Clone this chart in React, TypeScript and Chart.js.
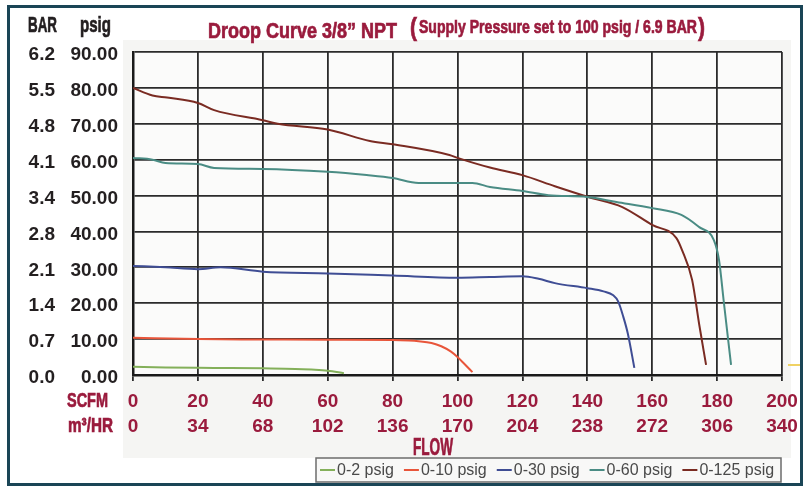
import React, { useEffect, useRef } from 'react';
import { Chart, registerables } from 'chart.js';

Chart.register(...registerables);

// ---- Axis tick labels ----
const scfmTicks = [0, 20, 40, 60, 80, 100, 120, 140, 160, 180, 200];
const m3hrTicks = ['0', '34', '68', '102', '136', '170', '204', '238', '272', '306', '340'];
const psigTicks = [0, 10, 20, 30, 40, 50, 60, 70, 80, 90];
const barTicks = ['0.0', '0.7', '1.4', '2.1', '2.8', '3.4', '4.1', '4.8', '5.5', '6.2'];

// ---- Series ----
const seriesNames = ['0-2 psig', '0-10 psig', '0-30 psig', '0-60 psig', '0-125 psig'];
const seriesColors = ['#84b05a', '#e8553a', '#3f4d94', '#4a8c84', '#7a2b22'];

const flow0_2 = [0, 10, 20, 30, 40, 50, 55, 60, 65];
const psig0_2 = [2.3, 2.1, 2.0, 1.95, 1.85, 1.7, 1.5, 1.2, 0.5];

const flow0_10 = [0, 20, 40, 60, 80, 85, 88, 92, 95, 98, 100, 102, 104.6];
const psig0_10 = [10.4, 10.0, 9.9, 9.8, 9.75, 9.6, 9.4, 8.9, 8.0, 6.5, 5.0, 3.2, 0.8];

const flow0_30 = [0, 10, 20, 27, 40, 60, 80, 100, 110, 120, 125, 130, 140, 145, 148, 149.5, 151, 152.5, 154.5];
const psig0_30 = [30.4, 30.0, 29.5, 30.0, 28.8, 28.3, 27.7, 27.1, 27.3, 27.5, 26.8, 25.6, 24.2, 23.3, 22.2, 20.5, 16.5, 11.5, 2.0];

const flow0_60 = [0, 6, 10, 20, 25, 40, 60, 72, 80, 88, 97.5, 104.6, 110, 120, 128, 140, 149, 160, 169, 174.5, 179, 180.6, 182, 184.3];
const psig0_60 = [60.5, 60.0, 59.1, 58.8, 57.7, 57.4, 56.6, 55.7, 54.9, 53.5, 53.5, 53.5, 52.4, 51.3, 50.1, 49.6, 48.2, 46.5, 44.6, 41.2, 37.6, 32.0, 20.9, 2.8];

const flow0_125 = [0, 6, 10.5, 20, 25, 40, 44.6, 60, 73, 80, 97.5, 100, 110, 120, 130, 140.3, 150.8, 160, 167.4, 169.2, 172.3, 174.5, 176.6];
const psig0_125 = [80.0, 77.9, 77.3, 75.8, 73.8, 71.0, 70.0, 68.4, 65.2, 64.3, 61.3, 60.5, 57.8, 55.7, 52.6, 49.6, 46.8, 41.8, 38.2, 34.8, 26.5, 14.0, 2.8];

const seriesFlows = [flow0_2, flow0_10, flow0_30, flow0_60, flow0_125];
const seriesPsig = [psig0_2, psig0_10, psig0_30, psig0_60, psig0_125];

// ---- Text ----
const titleMain = 'Droop Curve 3/8\u201D NPT';
const titleSub = 'Supply Pressure set to 100 psig / 6.9 BAR';
const barHeader = 'BAR';
const psigHeader = 'psig';
const scfmRowLabel = 'SCFM';
const m3RowLabel = 'm\u00B3/HR';
const flowLabel = 'FLOW';

const BOLDSANS = '"Liberation Sans", Arial, sans-serif';
const SANS = '"Liberation Sans", Arial, sans-serif';
const RED = '#9a1b3d';
const DARK = '#231f20';
const GRID = '#2b2b2b';

// draw bold text squeezed horizontally to a given width (condensed look)
function fitText(ctx: CanvasRenderingContext2D, text: string, x: number, baseline: number, width: number, size: number, color: string) {
  ctx.save();
  ctx.font = `bold ${size}px ${BOLDSANS}`;
  ctx.textAlign = 'left';
  ctx.textBaseline = 'alphabetic';
  const w = ctx.measureText(text).width;
  ctx.translate(x, baseline);
  ctx.scale(width / w, 1);
  ctx.fillStyle = color;
  ctx.strokeStyle = color;
  ctx.lineWidth = 0.7;
  ctx.fillText(text, 0, 0);
  ctx.strokeText(text, 0, 0);
  ctx.restore();
}

const decorPlugin = {
  id: 'decor',
  beforeDraw(chart: any) {
    const { ctx, chartArea } = chart;
    ctx.save();
    ctx.fillStyle = '#ffffff';
    ctx.fillRect(0, 0, chart.width, chart.height);
    ctx.fillStyle = '#f5f5f3';
    ctx.fillRect(123, 40, 668, 418);
    ctx.fillStyle = '#fbfbfa';
    ctx.fillRect(chartArea.left, chartArea.top, chartArea.right - chartArea.left, chartArea.bottom - chartArea.top);
    ctx.restore();
  },
  afterDraw(chart: any) {
    const { ctx } = chart;
    ctx.save();
    // Title
    fitText(ctx, titleMain, 208, 38, 189, 22, RED);
    fitText(ctx, '(', 410, 36, 7, 25, RED);
    fitText(ctx, titleSub, 419, 33, 278, 19, RED);
    fitText(ctx, ')', 698, 36, 7, 25, RED);

    // Y headers
    fitText(ctx, barHeader, 28, 32, 29, 22, DARK);
    fitText(ctx, psigHeader, 80, 32, 31, 22, DARK);

    // X row labels
    fitText(ctx, scfmRowLabel, 67, 407, 41, 21, RED);
    fitText(ctx, m3RowLabel, 68, 432, 45, 21, RED);
    fitText(ctx, flowLabel, 413, 455, 40, 23, RED);

    // Legend
    const lx0 = 316, ly0 = 458, lx1 = 781, ly1 = 482;
    ctx.fillStyle = '#f8f8f7';
    ctx.fillRect(lx0, ly0, lx1 - lx0, ly1 - ly0);
    ctx.strokeStyle = '#6c6c6c';
    ctx.lineWidth = 1.5;
    ctx.strokeRect(lx0, ly0, lx1 - lx0, ly1 - ly0);
    ctx.font = `16px ${SANS}`;
    ctx.textAlign = 'left';
    ctx.textBaseline = 'middle';
    let cx = 320;
    const cy = (ly0 + ly1) / 2;
    chart.data.datasets.forEach((ds: any) => {
      ctx.strokeStyle = ds.borderColor;
      ctx.lineWidth = 2;
      ctx.beginPath();
      ctx.moveTo(cx, cy);
      ctx.lineTo(cx + 15, cy);
      ctx.stroke();
      ctx.fillStyle = '#4a4a4a';
      ctx.fillText(ds.label, cx + 17, cy + 1);
      cx += 17 + ctx.measureText(ds.label).width + 10;
    });

    // small yellow mark at right edge
    ctx.strokeStyle = '#f0d264';
    ctx.lineWidth = 2;
    ctx.beginPath();
    ctx.moveTo(788, 365);
    ctx.lineTo(801, 365);
    ctx.stroke();

    // Frame
    ctx.strokeStyle = '#1a4556';
    ctx.lineWidth = 3;
    ctx.strokeRect(8.5, 6.5, 793, 478);
    ctx.restore();
  },
};

export default function App() {
  const canvasRef = useRef<HTMLCanvasElement | null>(null);

  useEffect(() => {
    const canvas = canvasRef.current;
    if (!canvas) return;
    const datasets = seriesNames.map((name, s) => ({
      label: name,
      data: seriesFlows[s].map((f, i) => ({ x: f, y: seriesPsig[s][i] })),
      borderColor: seriesColors[s],
      backgroundColor: seriesColors[s],
      borderWidth: 2,
      pointRadius: 0,
      cubicInterpolationMode: 'monotone' as const,
      fill: false,
    }));

    const tickFont = { family: BOLDSANS, size: 19, weight: 'bold' as const };

    const chart = new Chart(canvas, {
      type: 'line',
      data: { datasets },
      options: {
        animation: false,
        responsive: false,
        devicePixelRatio: 1,
        layout: { padding: { left: 10, right: 26, top: 52, bottom: 43 } },
        plugins: {
          legend: { display: false },
          tooltip: { enabled: false },
          title: { display: false },
        },
        scales: {
          x: {
            type: 'linear',
            position: 'bottom',
            min: 0,
            max: 200,
            afterBuildTicks: (scale: any) => {
              scale.ticks = scfmTicks.map((v) => ({ value: v }));
            },
            afterFit: (scale: any) => {
              scale.height = 70;
            },
            ticks: {
              autoSkip: false,
              maxRotation: 0,
              padding: 8,
              color: RED,
              font: { ...tickFont, lineHeight: 1.32 },
              callback: (v: any) => {
                const i = scfmTicks.indexOf(Number(v));
                return [String(v), m3hrTicks[i]];
              },
            },
            grid: { color: GRID, lineWidth: 1.8, drawTicks: true, tickLength: 6, tickColor: GRID },
            border: { color: '#1a1a1a', width: 2.5 },
          },
          y: {
            type: 'linear',
            position: 'left',
            weight: 0,
            min: 0,
            max: 90,
            afterBuildTicks: (scale: any) => {
              scale.ticks = psigTicks.map((v) => ({ value: v }));
            },
            afterFit: (scale: any) => {
              scale.width = 67;
            },
            ticks: {
              autoSkip: false,
              padding: 15,
              labelOffset: 3,
              color: DARK,
              font: tickFont,
              callback: (v: any) => Number(v).toFixed(2),
            },
            grid: { color: GRID, lineWidth: 1.8, drawTicks: false },
            border: { color: '#1a1a1a', width: 2.5 },
          },
          yBar: {
            type: 'linear',
            axis: 'y',
            position: 'left',
            weight: 1,
            min: 0,
            max: 90,
            afterBuildTicks: (scale: any) => {
              scale.ticks = psigTicks.map((v) => ({ value: v }));
            },
            afterFit: (scale: any) => {
              scale.width = 56;
            },
            ticks: {
              autoSkip: false,
              padding: 11,
              labelOffset: 3,
              color: DARK,
              font: tickFont,
              callback: (v: any) => barTicks[psigTicks.indexOf(Number(v))],
            },
            grid: { display: false, drawTicks: false },
            border: { display: false },
          },
        },
      } as any,
      plugins: [decorPlugin],
    });
    return () => chart.destroy();
  }, []);

  return (
    <div style={{ position: 'fixed', left: 0, top: 0, width: 808, height: 488, background: '#fff' }}>
      <canvas ref={canvasRef} width={808} height={488} style={{ width: 808, height: 488, display: 'block' }} />
    </div>
  );
}
